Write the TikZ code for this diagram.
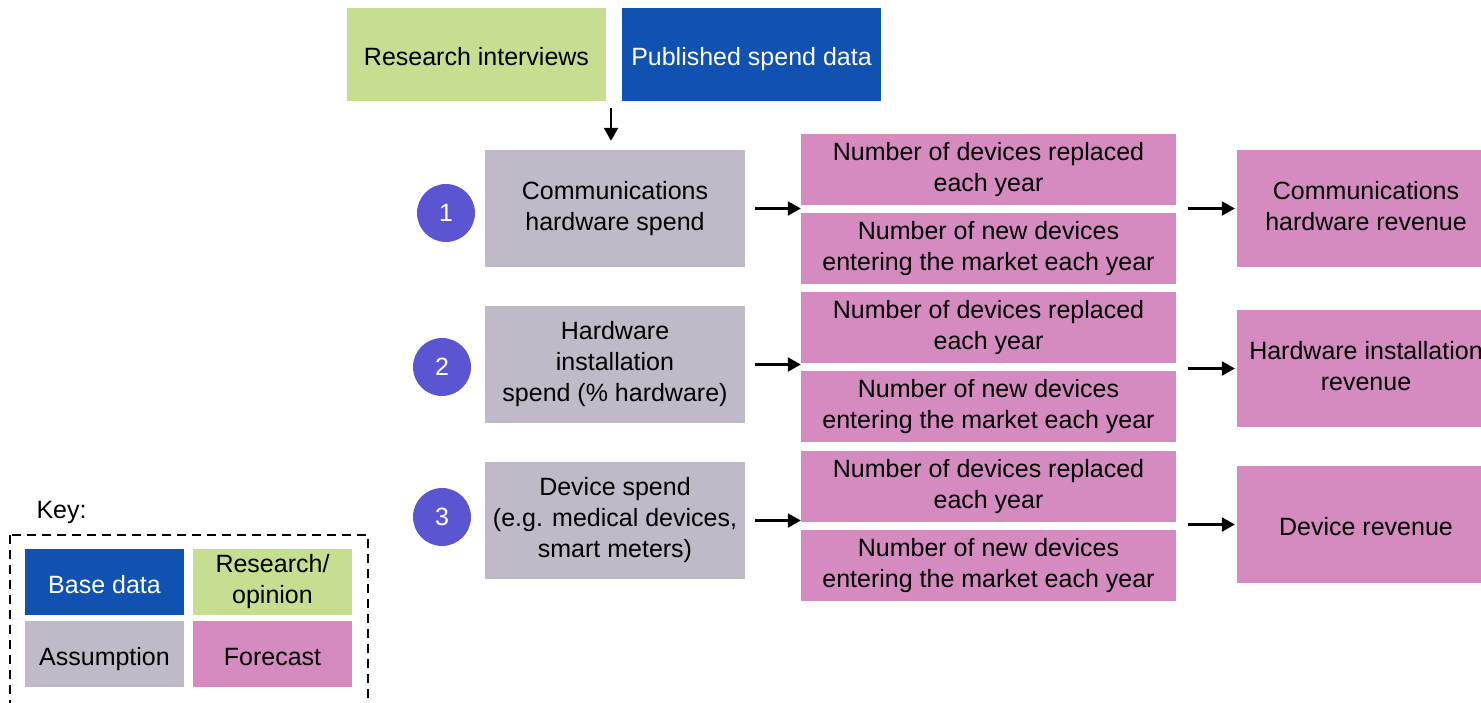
\documentclass[tikz,border=0pt]{standalone}
\usepackage{fontspec}
\setmainfont{Liberation Sans}
\usetikzlibrary{arrows.meta, positioning}
\definecolor{basedata}{RGB}{17, 81, 178}
\definecolor{research}{RGB}{197, 222, 144}
\definecolor{assume}{RGB}{192, 185, 200}
\definecolor{forecast}{RGB}{213, 139, 191}
\definecolor{stepnum}{RGB}{91, 85, 210}
\newcommand{\boxstrut}{\rule[-6pt]{0pt}{34pt}}
\tikzset{
  box/.style={rectangle, inner sep=0pt, align=center, font=\fontsize{25}{31}\selectfont,
    execute at begin node=\boxstrut, execute at end node=\boxstrut},
  srcbox/.style={box, fill=#1, minimum width=259pt, minimum height=93pt},
  spendbox/.style={box, fill=assume, minimum width=260pt, minimum height=117pt},
  devbox/.style={box, fill=forecast, minimum width=375pt, minimum height=71pt},
  revbox/.style={box, fill=forecast, minimum width=258pt, minimum height=117pt},
  keybox/.style={box, fill=#1, minimum width=159pt, minimum height=66pt},
  stepcirc/.style={circle, fill=stepnum, inner sep=0pt, minimum size=58pt, text=white, font=\fontsize{25}{31}\selectfont},
  arr/.style={line width=2.5pt, -{Triangle[length=13pt, width=14pt]}}
}

\begin{document}
\begin{tikzpicture}[x=1pt, y=-1pt]
  \useasboundingbox (0,0) rectangle (1481,703);
  \clip (0,0) rectangle (1481,703);

  % inputs
  \node[srcbox=research] (interviews) at (476.5,54.5) {Research interviews};
  \node[srcbox=basedata, text=white] (published) at (751.5,54.5) {Published spend data};

  % spend assumptions
  \node[spendbox] (spend1) at (615,208.5) {Communications\\hardware spend};
  \node[spendbox] (spend2) at (615,364.5) {Hardware\\installation\\spend (\% hardware)};
  \node[spendbox] (spend3) at (615,520.5) {Device spend\\(e.g. medical devices,\\smart meters)};

  \node[stepcirc] (circ1) at (446,213) {1};
  \node[stepcirc] (circ2) at (442,367) {2};
  \node[stepcirc] (circ3) at (442,517) {3};

  % device forecasts
  \node[devbox] (repl1) at (988.5,169.5) {Number of devices replaced\\each year};
  \node[devbox] (new1) at (988.5,248.5) {Number of new devices\\entering the market each year};
  \node[devbox] (repl2) at (988.5,327.5) {Number of devices replaced\\each year};
  \node[devbox] (new2) at (988.5,406.5) {Number of new devices\\entering the market each year};
  \node[devbox] (repl3) at (988.5,486.5) {Number of devices replaced\\each year};
  \node[devbox] (new3) at (988.5,565.5) {Number of new devices\\entering the market each year};

  % revenues
  \node[revbox] (rev1) at (1366,208.5) {Communications\\hardware revenue};
  \node[revbox] (rev2) at (1366,368.5) {Hardware installation\\revenue};
  \node[revbox] (rev3) at (1366,524.5) {Device revenue};

  % arrows
  \coordinate (split) at (611,101);
  \draw[arr, shorten <=7pt, shorten >=9pt] (split) -- (split |- spend1.north);
  \foreach \i in {1,2,3} {
    \draw[arr, shorten <=10pt] (spend\i.east) -- (spend\i.east -| repl\i.west);
    \draw[arr, shorten <=12pt, shorten >=2pt] (rev\i.west -| repl\i.east) -- (rev\i.west);
  }

  % key
  \node[anchor=west, font=\fontsize{25}{31}\selectfont] (keytitle) at (33,512) {Key:};
  \draw[line width=2.5pt, dash pattern=on 9pt off 6pt] (10,535) rectangle (368,730);
  \node[keybox=basedata, text=white] (kbase) at (104.5,582) {Base data};
  \node[keybox=research] (kresearch) at (272.5,582) {Research/\\opinion};
  \node[keybox=assume] (kassume) at (104.5,654) {Assumption};
  \node[keybox=forecast] (kforecast) at (272.5,654) {Forecast};
\end{tikzpicture}
\end{document}
